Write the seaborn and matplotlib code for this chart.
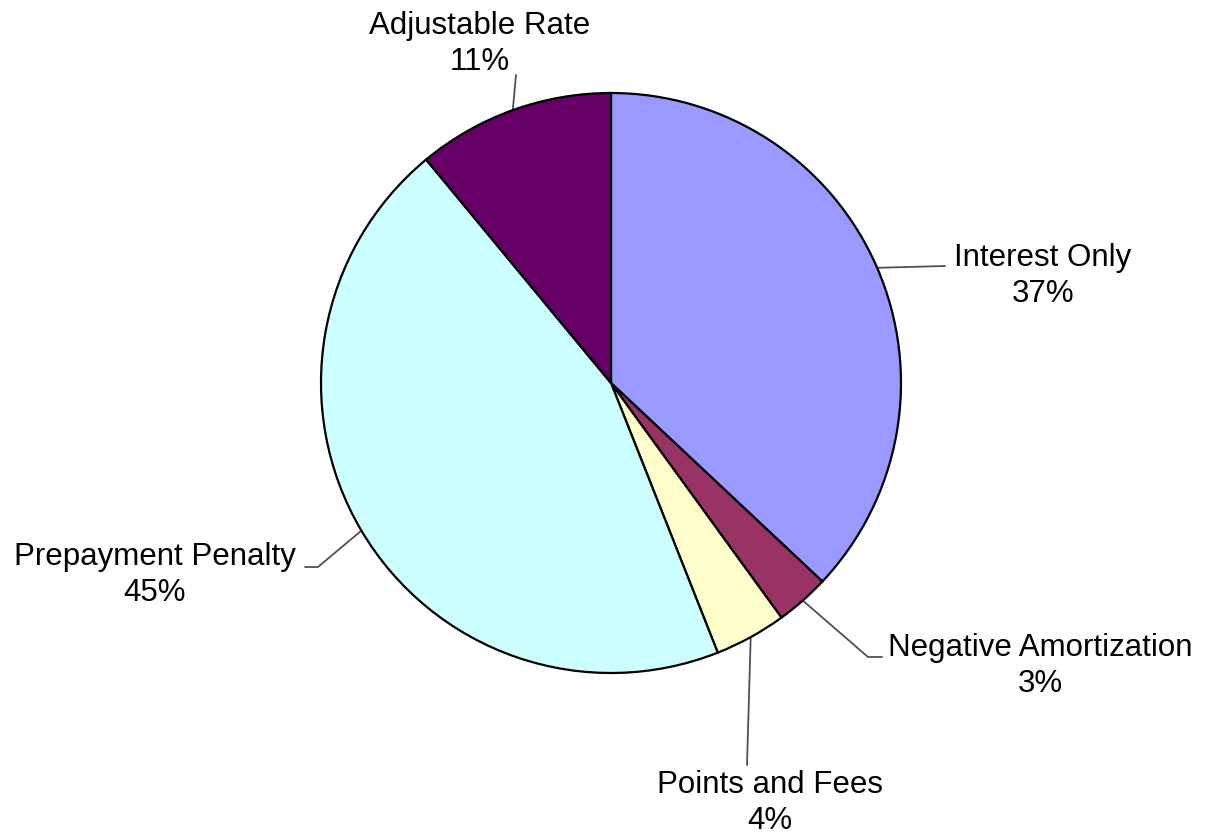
import numpy as np
import matplotlib
matplotlib.use("Agg")
import matplotlib.pyplot as plt
import seaborn as sns

# data
categories = ["Interest Only", "Negative Amortization", "Points and Fees",
              "Prepayment Penalty", "Adjustable Rate"]
shares = [37, 3, 4, 45, 11]
colors = ["#9999FF", "#993366", "#FFFFCC", "#CCFFFF", "#660066"]

sns.set_theme(style="white")
plt.rcParams['font.family'] = ['Liberation Sans', 'DejaVu Sans']

W, H = 1208, 838
fig = plt.figure(figsize=(W / 100, H / 100), dpi=100)
ax = fig.add_axes([0, 0, 1, 1])

cx, cy, r = 611, H - 383, 290
wedges, _ = ax.pie(shares, colors=colors, startangle=90, counterclock=False,
                   center=(cx, cy), radius=r,
                   wedgeprops=dict(edgecolor="black", linewidth=1.6))

# label layout (pixel coords, y from top): elbow, line end, text centre
layout = {
    "Interest Only": ([(945, 266)], (1043, 276)),
    "Negative Amortization": ([(868, 657), (882, 657)], (1040, 666)),
    "Points and Fees": ([(747, 765)], (770, 803)),
    "Prepayment Penalty": ([(318, 567), (305, 567)], (155, 575)),
    "Adjustable Rate": ([(516, 75)], (480, 44)),
}

for w, name, v in zip(wedges, categories, shares):
    mid = np.deg2rad((w.theta1 + w.theta2) / 2)
    x0, y0 = cx + r * np.cos(mid), cy + r * np.sin(mid)
    pts, (tx, ty) = layout[name]
    xs = [x0] + [p[0] for p in pts]
    ys = [y0] + [H - p[1] for p in pts]
    ax.plot(xs, ys, color="#505050", lw=1.3, zorder=0.5)
    ax.text(tx, H - ty, f"{name}\n{v}%", ha="center", va="center",
            fontsize=22.5, color="black", linespacing=1.26)

ax.set_xlim(0, W)
ax.set_ylim(0, H)
ax.axis("off")

fig.savefig("out.png", dpi=100)
